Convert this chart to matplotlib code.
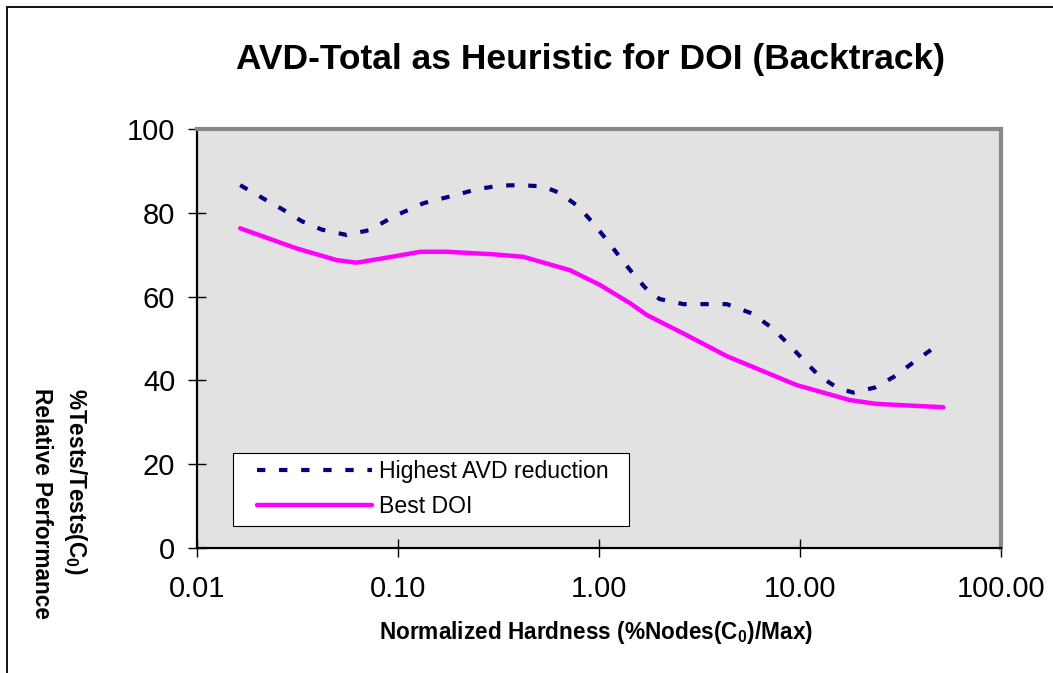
import matplotlib
matplotlib.use("Agg")
import matplotlib.pyplot as plt
from matplotlib.patches import Rectangle
from matplotlib.ticker import FixedLocator, FixedFormatter, NullLocator

plt.rcParams["font.family"] = ["Liberation Sans", "DejaVu Sans"]
plt.rcParams["mathtext.fontset"] = "custom"
plt.rcParams["mathtext.rm"] = "Liberation Sans:bold"
plt.rcParams["mathtext.default"] = "rm"

# Normalized hardness (log scale) and relative performance values
hardness_avd = [0.0164, 0.0214, 0.0269, 0.0332, 0.0417, 0.0556, 0.0726, 0.0948,
                0.134, 0.192, 0.246, 0.321, 0.405, 0.528, 0.64, 0.789, 0.937,
                1.11, 1.30, 1.51, 1.79, 2.01, 2.63, 3.37, 4.32, 5.75, 7.23,
                8.75, 10.4, 12.5, 15.5, 18.4, 23.6, 29.4, 36.4, 45.2, 49.5]
highest_avd = [86.6, 83.4, 80.7, 78.0, 76.0, 74.7, 75.9, 79.1,
               82.3, 84.2, 85.6, 86.5, 86.6, 86.3, 84.7, 81.5, 77.5,
               73.1, 68.8, 64.9, 60.9, 59.4, 58.2, 58.2, 58.2, 56.0, 52.6,
               48.7, 44.9, 41.0, 38.1, 37.1, 38.3, 40.9, 44.2, 47.4, 48.4]

hardness_doi = [0.0164, 0.0313, 0.0496, 0.0623, 0.088, 0.129, 0.175, 0.298,
                0.42, 0.717, 1.01, 1.43, 1.73, 2.63, 4.32, 9.6, 17.7, 24.0, 51.6]
best_doi = [76.3, 71.5, 68.7, 68.1, 69.3, 70.7, 70.7, 70.1,
            69.5, 66.3, 62.8, 58.4, 55.6, 51.2, 45.8, 38.9, 35.3, 34.4, 33.6]

x_ticks = [0.01, 0.1, 1, 10, 100]
x_tick_labels = ["0.01", "0.10", "1.00", "10.00", "100.00"]
y_ticks = [0, 20, 40, 60, 80, 100]

W, H = 1053, 673
fig = plt.figure(figsize=(W / 100, H / 100), dpi=100)
fig.patch.set_facecolor("white")

ax = fig.add_axes([197 / W, 1 - 548 / H, (1001 - 197) / W, (548 - 129) / H])
ax.set_facecolor("#e2e2e2")
ax.set_xscale("log")
ax.set_xlim(0.01, 100)
ax.set_ylim(0, 100)

ax.plot(hardness_avd, highest_avd, color="#000080", lw=3.0,
        linestyle=(0, (2.0, 3.3)), dash_capstyle="butt",
        label="Highest AVD reduction", zorder=3)
ax.plot(hardness_doi, best_doi, color="#ff00ff", lw=3.2,
        solid_capstyle="round", label="Best DOI", zorder=3)

ax.xaxis.set_major_locator(FixedLocator(x_ticks))
ax.xaxis.set_major_formatter(FixedFormatter(x_tick_labels))
ax.xaxis.set_minor_locator(NullLocator())
ax.set_yticks(y_ticks)
ax.set_yticklabels([str(v) for v in y_ticks])
ax.tick_params(axis="both", direction="inout", length=13.5, width=1.0,
               labelsize=21, colors="black")
ax.tick_params(axis="y", pad=9)
ax.tick_params(axis="x", pad=13)

for side in ("top", "right"):
    ax.spines[side].set_color("#888888")
    ax.spines[side].set_linewidth(3.0)
for side in ("left", "bottom"):
    ax.spines[side].set_color("black")
    ax.spines[side].set_linewidth(1.6)

# legend box drawn separately so the inner padding can be wider than tall
ax.add_patch(Rectangle((233 / W, 1 - 526 / H), (629 - 233) / W, (526 - 453) / H,
                       transform=fig.transFigure, facecolor="white",
                       edgecolor="black", linewidth=0.8, zorder=4))
leg = ax.legend(loc="upper left", bbox_to_anchor=(257 / W, 1 - 460 / H),
                bbox_transform=fig.transFigure, fontsize=16.6, frameon=False,
                handlelength=5.0, handletextpad=0.27,
                borderpad=0.0, labelspacing=0.52, borderaxespad=0)
leg.set_zorder(5)

fig.text(590 / W, 1 - 60 / H, "AVD-Total as Heuristic for DOI (Backtrack)",
         ha="center", va="center", fontsize=25.5, fontweight="bold")
fig.text(596 / W, 1 - 633 / H, "Normalized Hardness (%Nodes(C$_0$)/Max)",
         ha="center", va="center", fontsize=16.3, fontweight="bold")
fig.text(59 / W, 1 - 388 / H, "%Tests/Tests(C$_0$)\nRelative Performance",
         rotation=270, ha="center", va="top", multialignment="left",
         fontsize=16.3, fontweight="bold", linespacing=1.5)

# outer chart frame
fig.add_artist(Rectangle((7 / W, -0.2), 1.3, 1 - 7 / H + 0.2,
                         transform=fig.transFigure, fill=False,
                         edgecolor="black", linewidth=1.3))

fig.savefig("out.png", dpi=100, facecolor="white")
